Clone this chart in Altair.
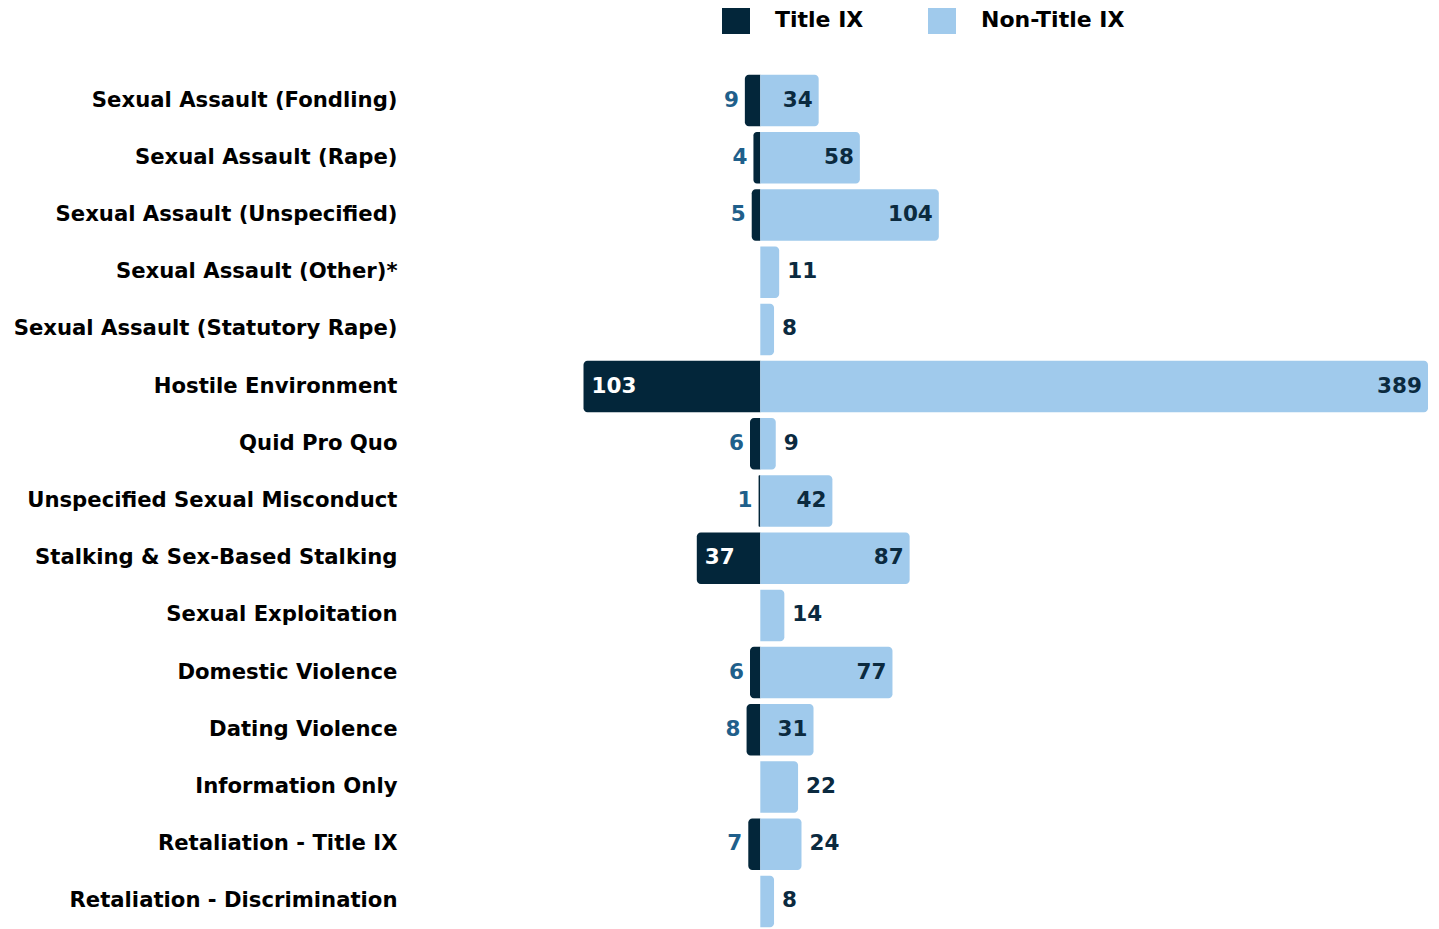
import altair as alt
import pandas as pd

categories = [
    "Sexual Assault (Fondling)",
    "Sexual Assault (Rape)",
    "Sexual Assault (Unspecified)",
    "Sexual Assault (Other)*",
    "Sexual Assault (Statutory Rape)",
    "Hostile Environment",
    "Quid Pro Quo",
    "Unspecified Sexual Misconduct",
    "Stalking & Sex-Based Stalking",
    "Sexual Exploitation",
    "Domestic Violence",
    "Dating Violence",
    "Information Only",
    "Retaliation - Title IX",
    "Retaliation - Discrimination",
]
title_ix = [9, 4, 5, 0, 0, 103, 6, 1, 37, 0, 6, 8, 0, 7, 0]
non_title_ix = [34, 58, 104, 11, 8, 389, 9, 42, 87, 14, 77, 31, 22, 24, 8]
series_names = ["Title IX", "Non-Title IX"]

rows = []
for c, a, b in zip(categories, title_ix, non_title_ix):
    rows.append({"category": c, "series": series_names[0], "value": a})
    rows.append({"category": c, "series": series_names[1], "value": b})
df = pd.DataFrame(rows)

FONT = "DejaVu Sans"
DARK = "#03263a"
LIGHT = "#a0caec"

base = alt.Chart(df).transform_calculate(neg="-datum.value", zero="0")

yenc = alt.Y(
    "category:N",
    sort=categories,
    title=None,
    scale=alt.Scale(paddingInner=0.1, paddingOuter=0.05),
    axis=alt.Axis(
        domain=False, ticks=False, labelFont=FONT, labelFontWeight="bold",
        labelFontSize=21.2, labelColor="#000000", labelPadding=8, labelLimit=600,
    ),
)
xscale = alt.Scale(domain=[-207, 389], nice=False, zero=False)
color = alt.Color(
    "series:N",
    scale=alt.Scale(domain=series_names, range=[DARK, LIGHT]),
    legend=alt.Legend(
        title=None, orient="none", legendX=317, legendY=-66, direction="horizontal",
        symbolType="square", symbolSize=784, symbolStrokeWidth=0, symbolOpacity=1,
        labelFont=FONT, labelFontWeight="bold", labelFontSize=22, labelColor="#000000",
        labelOffset=25, columnPadding=64,
    ),
)

t_bars = base.transform_filter(alt.datum.series == "Title IX").mark_bar(
    cornerRadiusTopLeft=4, cornerRadiusBottomLeft=4
).encode(
    x=alt.X("neg:Q", scale=xscale, axis=None),
    x2="zero:Q",
    y=yenc,
    color=color,
)
n_bars = base.transform_filter(alt.datum.series == "Non-Title IX").mark_bar(
    cornerRadiusTopRight=4, cornerRadiusBottomRight=4
).encode(
    x=alt.X("zero:Q", scale=xscale, axis=None),
    x2="value:Q",
    y=yenc,
    color=color,
)

txt = dict(fontSize=21.5, fontWeight="bold", font=FONT, baseline="middle")

t_out = base.transform_filter(
    (alt.datum.series == "Title IX") & (alt.datum.value > 0) & (alt.datum.value < 30)
).mark_text(align="right", dx=-6, color="#1f5f8b", **txt).encode(
    x=alt.X("neg:Q", scale=xscale, axis=None), y=yenc, text="value:Q"
)
t_in = base.transform_filter(
    (alt.datum.series == "Title IX") & (alt.datum.value >= 30)
).mark_text(align="left", dx=8, color="#ffffff", **txt).encode(
    x=alt.X("neg:Q", scale=xscale, axis=None), y=yenc, text="value:Q"
)
n_in = base.transform_filter(
    (alt.datum.series == "Non-Title IX") & (alt.datum.value >= 30)
).mark_text(align="right", dx=-6, color="#0b2a3f", **txt).encode(
    x=alt.X("value:Q", scale=xscale, axis=None), y=yenc, text="value:Q"
)
n_out = base.transform_filter(
    (alt.datum.series == "Non-Title IX") & (alt.datum.value < 30)
).mark_text(align="left", dx=8, color="#0b2a3f", **txt).encode(
    x=alt.X("value:Q", scale=xscale, axis=None), y=yenc, text="value:Q"
)

chart = alt.layer(t_bars, n_bars, t_out, t_in, n_in, n_out).properties(
    width=1023,
    height=858,
    autosize=alt.AutoSizeParams(type="none"),
    padding={"left": 397, "top": 64, "right": 3, "bottom": 0},
).configure_view(stroke=None)

chart.save("out.html", embed_options={"renderer": "svg", "actions": False})
